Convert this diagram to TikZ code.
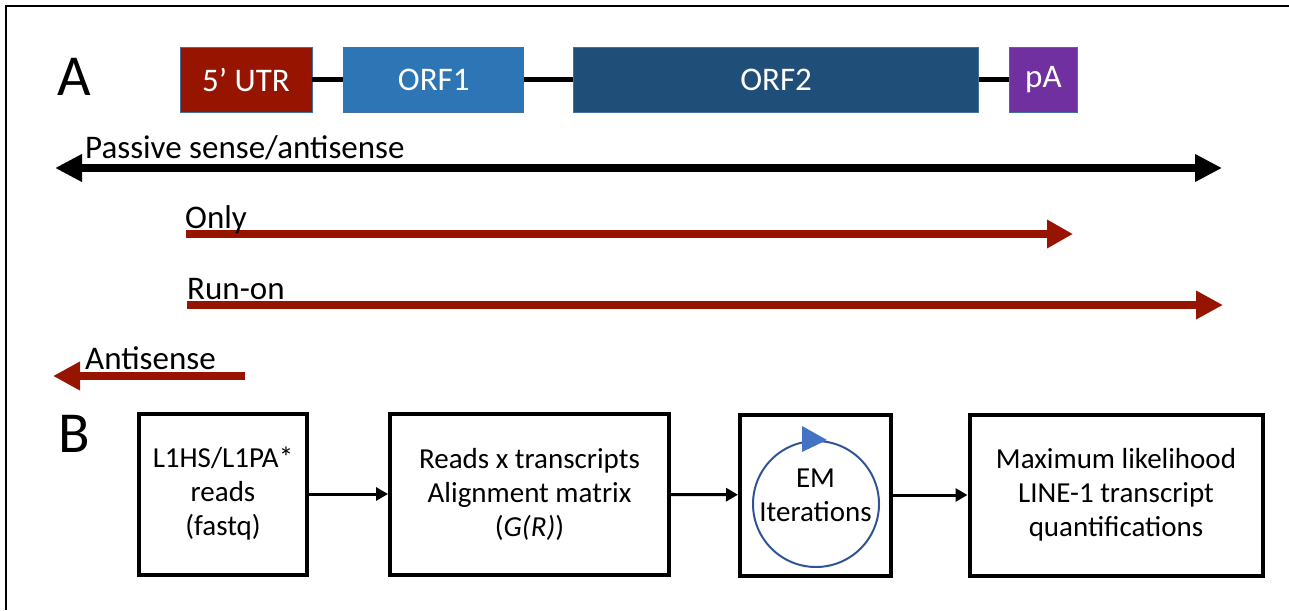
\documentclass[tikz,border=0pt]{standalone}
\usepackage{fontspec}
\setmainfont{Carlito}
\usetikzlibrary{arrows.meta,positioning,calc}
\definecolor{utrred}{HTML}{961400}
\definecolor{orfone}{HTML}{2E75B6}
\definecolor{orftwo}{HTML}{1F4E79}
\definecolor{polyapurple}{HTML}{7030A0}
\definecolor{boxedge}{HTML}{41719C}
\definecolor{loopblue}{HTML}{2F5597}
\definecolor{tipblue}{HTML}{4472C4}

\begin{document}
\begin{tikzpicture}[x=1pt, y=-1pt,
  genebox/.style={draw=boxedge, line width=0.8pt, text=white, minimum height=65pt, inner sep=0pt, font=\fontsize{33}{40}\selectfont},
  flowbox/.style={draw, line width=4pt, minimum height=161pt, align=center, inner sep=0pt, font=\fontsize{29}{34}\selectfont},
  strand/.style={line width=8pt},
  strandlabel/.style={anchor=base west, inner sep=0pt, font=\fontsize{33}{40}\selectfont},
  flowarrow/.style={line width=3pt, -{Triangle[length=12pt,width=13pt]}}
]
  \useasboundingbox (0,0) rectangle (1289,610);
  \draw[line width=2.5pt] (6,610) -- (6,6) -- (1289,6);

  % A: the element and its transcripts
  \node[font=\fontsize{58}{60}\selectfont, inner sep=0pt] (panelA) at (74,77) {A};
  \node[genebox, fill=utrred, minimum width=132pt] (utr) at (246,79.5) {5’ UTR};
  \node[genebox, fill=orfone, minimum width=180pt, right=31pt of utr] (orf1) {ORF1};
  \node[genebox, fill=orftwo, minimum width=405pt, right=49pt of orf1] (orf2) {ORF2};
  \node[genebox, fill=polyapurple, minimum width=68pt, right=30pt of orf2] (polya) {pA};
  \draw[line width=4.5pt] (utr) -- (orf1);
  \draw[line width=4.5pt] (orf1) -- (orf2);
  \draw[line width=4.5pt] (orf2) -- (polya);

  \coordinate (passL) at (55,168);
  \coordinate (passR) at (1222,168);
  \draw[strand, {Triangle[length=27pt,width=26pt]}-{Triangle[length=27pt,width=26pt]}] (passL) -- (passR);
  \node[strandlabel] (passlbl) at (85,158) {Passive sense/antisense};

  \coordinate (onlyL) at (186,234);
  \coordinate (onlyR) at (1073,234);
  \draw[strand, utrred, -{Triangle[length=26pt,width=27pt]}] (onlyL) -- (onlyR);
  \node[strandlabel] (onlylbl) at (185,228) {Only};

  \coordinate (runL) at (187,305);
  \coordinate (runR) at (1223,305);
  \draw[strand, utrred, -{Triangle[length=27pt,width=27pt]}] (runL) -- (runR);
  \node[strandlabel] (runlbl) at (187,299) {Run-on};

  \coordinate (antiR) at (245,376);
  \coordinate (antiL) at (53,376);
  \draw[strand, utrred, -{Triangle[length=27pt,width=27pt]}] (antiR) -- (antiL);
  \node[strandlabel] (antilbl) at (85,369) {Antisense};

  % B: quantification pipeline
  \node[font=\fontsize{58}{60}\selectfont, inner sep=0pt] (panelB) at (74,434) {B};
  \node[flowbox, minimum width=168pt] (reads) at (223,494) {L1HS/L1PA*\\reads\\(fastq)};
  \node[flowbox, minimum width=279pt] (matrix) at (529.5,494) {Reads x transcripts\\Alignment matrix\\(\textit{G(R)})};
  \node[flowbox, minimum width=151pt] (em) at (815.5,495) {EM\\Iterations};
  \node[flowbox, minimum width=293pt] (quant) at (1116,495) {Maximum likelihood\\LINE-1 transcript\\quantifications};
  \node[draw=loopblue, line width=2pt, circle, minimum size=126pt, inner sep=0pt] (emloop) at (816,504) {};
  \fill[tipblue] ($(emloop.north)+(-14,-14)$) -- ($(emloop.north)+(11,0)$) -- ($(emloop.north)+(-14,12)$) -- cycle;

  \draw[flowarrow] (reads) -- (matrix);
  \draw[flowarrow] (matrix) -- (em);
  \draw[flowarrow] (em) -- (quant);
\end{tikzpicture}
\end{document}
